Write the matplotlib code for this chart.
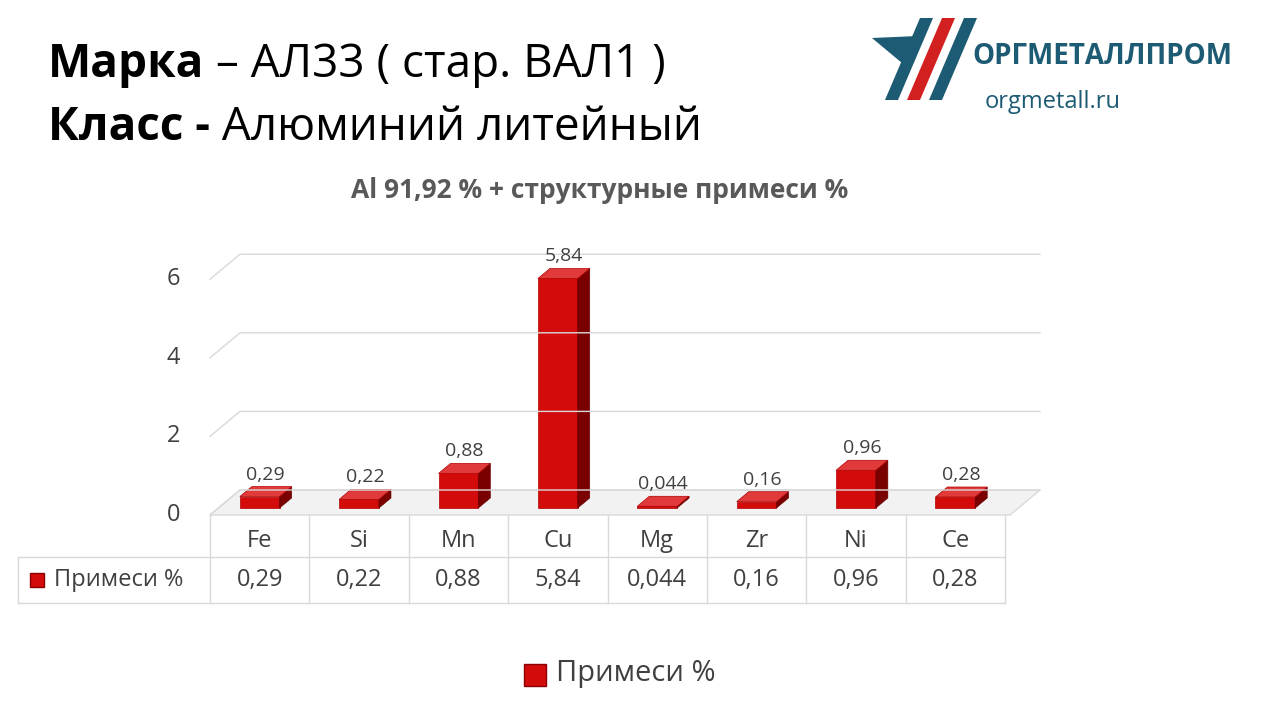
import matplotlib
matplotlib.use("Agg")
import matplotlib.pyplot as plt
from matplotlib.patches import Polygon

plt.rcParams['font.family'] = ['Open Sans', 'DejaVu Sans']

categories = ["Fe", "Si", "Mn", "Cu", "Mg", "Zr", "Ni", "Ce"]
values = [0.29, 0.22, 0.88, 5.84, 0.044, 0.16, 0.96, 0.28]
labels = ["0,29", "0,22", "0,88", "5,84", "0,044", "0,16", "0,96", "0,28"]
yticks = [0, 2, 4, 6]
series_name = "Примеси %"

W, H = 1280, 720
fig = plt.figure(figsize=(12.8, 7.2), dpi=100)
fig.patch.set_facecolor("white")
rend = fig.canvas.get_renderer()

L, R = 210, 1005
Bpx, Tpx = 515, 230
ppu = 39.3
zero_px = 508
ax = fig.add_axes([L / W, 1 - Bpx / H, (R - L) / W, (Bpx - Tpx) / H])
ax.set_xlim(-0.5, 7.5)
ax.set_ylim((zero_px - Bpx) / ppu, (zero_px - Tpx) / ppu)
ax.axis("off")
cpx = (R - L) / 8.0
def dx(px): return px / cpx
def dy(px): return px / ppu

off_x, off_y = dx(30), dy(25)
base = dy(zero_px - 515)
for v in yticks:
    y0 = v + base
    ax.plot([-0.5, -0.5 + off_x, 7.5 + dx(35)], [y0, y0 + off_y, y0 + off_y],
            color="#d9d9d9", lw=1, clip_on=False)
ax.add_patch(Polygon([(-0.5, base), (-0.5 + off_x, base + off_y), (7.5 + dx(35), base + off_y),
                      (7.5 + dx(5), base)], closed=True, facecolor="#f2f2f2", edgecolor="#d9d9d9", lw=1, clip_on=False))

bw = 0.4
ddx, ddy = dx(12), dy(10)
for i, v in enumerate(values):
    x0, x1 = i - bw / 2, i + bw / 2
    ax.add_patch(Polygon([(x0, 0), (x1, 0), (x1, v), (x0, v)], facecolor="#d40b0b", edgecolor="#b00000", lw=0.5, clip_on=False))
    ax.add_patch(Polygon([(x1, 0), (x1 + ddx, ddy), (x1 + ddx, v + ddy), (x1, v)], facecolor="#7a0000", edgecolor="#6a0000", lw=0.5, clip_on=False))
    ax.add_patch(Polygon([(x0, v), (x1, v), (x1 + ddx, v + ddy), (x0 + ddx, v + ddy)], facecolor="#e03a3a", edgecolor="#b00000", lw=0.5, clip_on=False))
    ax.text(i + ddx / 2, v + ddy + dy(3), labels[i], ha="center", va="bottom", fontsize=14, color="#404040")

for v in yticks:
    fig.text(180 / W, 1 - (515 - v * ppu) / H, str(v), ha="right", va="center", fontsize=17, color="#404040")

lc = "#d9d9d9"
def hline(x0, x1, y): fig.add_artist(plt.Line2D([x0 / W, x1 / W], [1 - y / H, 1 - y / H], color=lc, lw=1))
def vline(x, y0, y1): fig.add_artist(plt.Line2D([x / W, x / W], [1 - y0 / H, 1 - y1 / H], color=lc, lw=1))
for i in range(9):
    vline(L + i * cpx, 515, 603)
vline(18, 557, 603)
hline(18, R, 557)
hline(18, R, 603)
for i, c in enumerate(categories):
    xc = L + (i + 0.5) * cpx
    fig.text(xc / W, 1 - 541 / H, c, ha="center", va="center", fontsize=17, color="#404040")
    fig.text(xc / W, 1 - 580 / H, labels[i], ha="center", va="center", fontsize=17, color="#404040")
fig.patches.append(plt.Rectangle((30 / W, 1 - 587 / H), 14 / W, 14 / H, transform=fig.transFigure, facecolor="#d40b0b", edgecolor="#8b0000"))
fig.text(54 / W, 1 - 580 / H, series_name, ha="left", va="center", fontsize=17, color="#404040")

fig.patches.append(plt.Rectangle((524 / W, 1 - 686 / H), 22 / W, 22 / H, transform=fig.transFigure, facecolor="#d40b0b", edgecolor="#8b0000"))
fig.text(556 / W, 1 - 674 / H, series_name, ha="left", va="center", fontsize=21, color="#404040")

def pair(x, y, bold, rest, size):
    t = fig.text(x / W, 1 - y / H, bold, fontsize=size, fontweight="bold", va="center")
    bb = t.get_window_extent(renderer=rend)
    fig.text(bb.x1 / W, 1 - y / H, rest, fontsize=size, va="center")

pair(48, 65, "Марка", " – АЛ33 ( стар. ВАЛ1 )", 33)
pair(48, 128, "Класс -", " Алюминий литейный", 33)
fig.text(600 / W, 1 - 190 / H, "Al 91,92 % + структурные примеси %", fontsize=19, fontweight="bold",
         color="#595959", ha="center", va="center")

teal = "#1d5a73"
for k, col in enumerate([teal, "#d21f1f", teal]):
    x = 885 + k * 22
    fig.patches.append(Polygon([((x) / W, 1 - 100 / H), ((x + 13) / W, 1 - 100 / H), ((x + 48) / W, 1 - 18 / H), ((x + 35) / W, 1 - 18 / H)],
                               closed=True, transform=fig.transFigure, facecolor=col))
fig.patches.append(Polygon([(872 / W, 1 - 38 / H), (918 / W, 1 - 36 / H), (908 / W, 1 - 68 / H)],
                           closed=True, transform=fig.transFigure, facecolor=teal))
fig.text(972 / W, 1 - 57 / H, "ОРГМЕТАЛЛПРОМ", fontsize=20, fontweight="bold", color=teal, va="center")
fig.text(985 / W, 1 - 102 / H, "orgmetall.ru", fontsize=17, color=teal, va="center")

fig.savefig("out.png", dpi=100)
